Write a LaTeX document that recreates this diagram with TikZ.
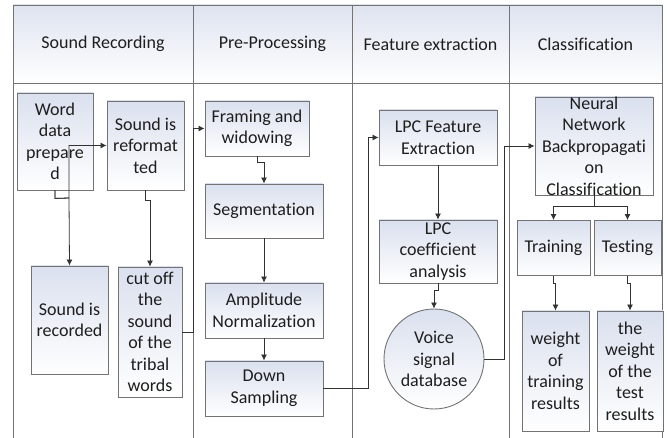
\documentclass[tikz,border=0pt]{standalone}
\usepackage{fontspec}
\setmainfont{Carlito}[Ligatures=NoCommon]
\usetikzlibrary{arrows.meta,calc}
\definecolor{boxtop}{RGB}{218,224,238}
\definecolor{hdrtop}{RGB}{222,227,240}
\definecolor{edge}{RGB}{115,115,115}
\definecolor{wire}{RGB}{50,50,50}
\definecolor{txt}{RGB}{30,30,30}
\tikzset{
  box/.style={draw=edge, line width=0.9pt, top color=boxtop, bottom color=white, inner sep=0pt, align=center, text=txt},
  bare/.style={inner sep=0pt, align=center, text=txt},
  hdr/.style={inner sep=0pt, text=txt},
  arr/.style={draw=wire, line width=0.8pt, -{Latex[length=6pt,width=6pt]}},
  lane/.style={draw=edge, line width=0.9pt},
}
\begin{document}
\begin{tikzpicture}[x=1pt,y=-1pt]
\fontsize{18}{21.5}\selectfont
\useasboundingbox (0,0) rectangle (667,438);
% headers
\foreach \a/\b in {13/193,193/352,352/509,509/662}{
  \shade[top color=hdrtop, bottom color=white] (\a,5) rectangle (\b,83);
}
\draw[lane] (13,438) -- (13,5) -- (662,5) -- (662,438);
\draw[lane] (13,83) -- (662,83);
\foreach \x in {193,352,509}{ \draw[lane] (\x,5) -- (\x,438); }
\node[hdr] (h1) at (103,44) {Sound Recording};
\node[hdr] (h2) at (272.5,44) {Pre-Processing};
\node[hdr] (h3) at (430.5,44) {Feature extraction};
\node[hdr] (h4) at (585.5,44) {Classification};
% nodes
\node[box, minimum width=76, minimum height=97] (word) at (55,141.5) {Word\\data\\prepare\\d};
\node[box, minimum width=77, minimum height=89] (reform) at (145.5,145.5) {Sound is\\reformat\\ted};
\node[box, minimum width=77, minimum height=108] (recorded) at (69.5,320) {Sound is\\recorded};
\node[box, minimum width=64, minimum height=130] (cutoff) at (150,332) {cut off\\the\\sound\\of the\\tribal\\words};
\node[box, minimum width=104, minimum height=55] (frame) at (257,128.5) {Framing and\\widowing};
\node[box, minimum width=118, minimum height=54] (seg) at (264,211) {Segmentation};
\node[box, minimum width=118, minimum height=55] (amp) at (264,310.5) {Amplitude\\Normalization};
\node[box, minimum width=118, minimum height=55] (down) at (264,388.5) {Down\\Sampling};
\node[box, minimum width=118, minimum height=55] (lpcf) at (438,137.5) {LPC Feature\\Extraction};
\node[box, minimum width=118, minimum height=63] (lpcc) at (438,251.5) {LPC\\coefficient\\analysis};
\node[box, circle, minimum size=100] (voice) at (434,359) {Voice\\signal\\database};
\node[box, minimum width=118, minimum height=98] (nn) at (594,146) {};
\node[bare] (nntext) at (nn.center) {Neural\\Network\\Backpropagati\\on\\Classification};
\node[box, minimum width=73, minimum height=55] (train) at (553.5,248) {Training};
\node[box, minimum width=67, minimum height=55] (test) at (627.5,248) {Testing};
\node[box, minimum width=67, minimum height=120] (wtrain) at (555.5,371) {weight\\of\\training\\results};
\node[box, minimum width=66, minimum height=120] (wtest) at (630,371) {the\\weight\\of the\\test\\results};
% connectors
\draw[arr] (word.south) -- ++(0,8) -- (69,198) -- (69,0 |- reform.west) -- (reform.west);
\draw[arr] (word.south) -- ++(0,8) -- (69,198) -- (recorded.north);
\draw[arr] (reform.south) -- ++(0,10) -| (cutoff.north);
\draw[arr] (cutoff.east) -| (193,0 |- frame.west) -- (frame.west);
\draw[arr] (frame.south) -- ++(0,6) -| (seg.north);
\draw[arr] (seg.south) -- (amp.north);
\draw[arr] (amp.south) -- (down.north);
\draw[arr] (down.east) -| (368,0 |- lpcf.west) -- (lpcf.west);
\draw[arr] (lpcf.south) -- (lpcc.north);
\draw[arr] (lpcc.south) -- ++(0,7) -| (voice.north);
\draw[arr] (voice.east) -| (504,0 |- nn.west) -- (nn.west);
\draw[arr] (nn.south) -- ++(0,11) -| (train.north);
\draw[arr] (nn.south) -- ++(0,11) -| (test.north);
\draw[arr] (train.south) -- ++(0,7) -| (wtrain.north);
\draw[arr] (test.south) -- ++(0,7) -| (wtest.north);
\end{tikzpicture}
\end{document}
